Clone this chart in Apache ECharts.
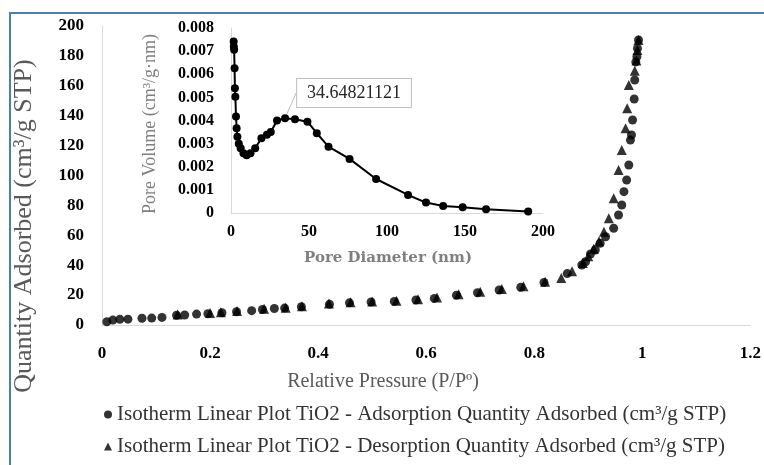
<!DOCTYPE html>
<html>
<head>
<meta charset="utf-8">
<script src="https://cdn.jsdelivr.net/npm/echarts@6/dist/echarts.min.js"></script>
<style>html,body{margin:0;padding:0;background:#fff;}#c{width:764px;height:465px;}</style>
</head>
<body>
<div id="c"></div>
<script>
// Main isotherm: relative pressure (P/P0) vs quantity adsorbed (cm3/g STP)
const adsP = [0.009,0.020,0.033,0.048,0.074,0.092,0.111,0.138,0.153,0.175,0.196,0.222,0.249,0.277,0.297,0.319,0.338,0.369,0.421,0.458,0.498,0.541,0.581,0.615,0.656,0.695,0.735,0.775,0.818,0.861,0.888,0.895,0.904,0.913,0.922,0.932,0.947,0.956,0.962,0.966,0.971,0.975,0.978,0.980,0.982,0.985,0.986,0.988,0.990,0.991,0.993];
const adsQ = [2.2,3.3,3.8,3.9,4.5,4.6,5.1,6.5,6.7,7.3,7.5,8.2,8.9,9.6,10.4,11.0,11.3,12.2,13.9,14.8,15.4,15.8,16.7,17.8,19.9,21.6,23.4,25.2,28.5,34.4,40.1,42.3,47.5,50.2,54.6,59,64.7,73.6,80.3,89.2,97,107,123.7,127.1,137.1,151.2,163.9,176,179.5,185,190.6];
const desP = [0.993,0.991,0.989,0.986,0.975,0.972,0.969,0.962,0.956,0.947,0.938,0.929,0.920,0.910,0.900,0.890,0.870,0.850,0.820,0.780,0.740,0.700,0.660,0.620,0.585,0.545,0.500,0.460,0.420,0.370,0.340,0.300,0.250,0.220,0.200,0.140];
const desQ = [190.6,184,177,170,160.5,145,131.6,117,103.7,84.7,71.4,62.4,56,51,46,41.5,36,31.5,29,26,24,22.2,20.5,18.4,17.3,16.3,15.8,15.2,14.3,12.6,11.6,10.8,9.3,8.5,8.0,7.0];
// Inset: pore size distribution
const poreDiameter = [1.7,1.8,2.0,2.3,2.5,2.8,3.2,3.6,4.1,5.0,6.2,8.0,10,12.5,15.5,19.5,23,25.5,29.5,34.64821121,41,49,55,62.5,76,93,113.5,125,136,148.5,163.5,190.5];
const poreVolume = [0.00742,0.0072,0.00706,0.00626,0.0054,0.00503,0.00417,0.00367,0.0033,0.0030,0.0028,0.00258,0.0025,0.00258,0.0028,0.00323,0.00338,0.0035,0.0040,0.0041,0.00405,0.00395,0.00345,0.00287,0.00234,0.00147,0.00078,0.00045,0.0003,0.00025,0.00016,0.00006];
const peakDiameter = 34.64821121;
// Tick labels
const mainXTicks = [0,0.2,0.4,0.6,0.8,1,1.2];
const mainYTicks = [0,20,40,60,80,100,120,140,160,180,200];
const insetXTicks = [0,50,100,150,200];
const insetYTicks = [0,0.001,0.002,0.003,0.004,0.005,0.006,0.007,0.008];

const adsName = 'Isotherm Linear Plot TiO2 - Adsorption Quantity Adsorbed (cm³/g STP)';
const desName = 'Isotherm Linear Plot TiO2 - Desorption Quantity Adsorbed (cm³/g STP)';

const serif = 'Liberation Serif';
const zip = (a,b) => a.map((v,i)=>[v,b[i]]);
const axisLineStyle = {show:true, onZero:false, lineStyle:{color:'#d9d9d9', width:1}};
function tickAxis(ticks, gridIndex, margin, size){
  return {
    type:'value', gridIndex:gridIndex,
    min:ticks[0], max:ticks[ticks.length-1], interval:ticks[1]-ticks[0],
    axisLine:axisLineStyle, axisTick:{show:false}, splitLine:{show:false},
    axisLabel:{fontFamily:serif, fontWeight:'bold', fontSize:size, color:'#000', margin:margin}
  };
}

const chart = echarts.init(document.getElementById('c'), null, {renderer:'canvas'});
const insetData = zip(poreDiameter, poreVolume).map(d => {
  if (d[0] === peakDiameter) {
    return {value:d, label:{show:true}};
  }
  return d;
});

chart.setOption({
  animation:false,
  backgroundColor:'#ffffff',
  grid:[
    {left:102, top:26, width:650, height:299},
    {left:231, top:28, width:312, height:185}
  ],
  xAxis:[ tickAxis(mainXTicks,0,20,17), tickAxis(insetXTicks,1,11,16) ],
  yAxis:[ tickAxis(mainYTicks,0,18,17), tickAxis(insetYTicks,1,17,16) ],
  legend:{
    data:[adsName, desName],
    orient:'vertical', left:104, top:404, padding:0, height:60,
    itemWidth:8, itemHeight:8, itemGap:11,
    textStyle:{fontFamily:serif, fontSize:21, color:'#333333'}
  },
  graphic:[
    {type:'rect', shape:{x:10, y:13, width:800, height:500}, style:{fill:'none', stroke:'#4a7ebb', lineWidth:2}, silent:true},
    {type:'text', x:383, y:382, style:{text:'Relative Pressure (P/Pº)', fontFamily:serif, fontSize:20, fill:'#595959', align:'center', verticalAlign:'middle'}},
    {type:'text', x:24, y:226, rotation:Math.PI/2, style:{text:'Quantity Adsorbed (cm³/g STP)', fontFamily:serif, fontSize:26, fill:'#595959', align:'center', verticalAlign:'middle'}},
    {type:'text', x:150, y:124, rotation:Math.PI/2, style:{text:'Pore Volume (cm³/g·nm)', fontFamily:serif, fontSize:18, fill:'#7f7f7f', align:'center', verticalAlign:'middle'}},
    {type:'text', x:388, y:258, style:{text:'Pore Diameter (nm)', fontFamily:'DejaVu Serif', fontWeight:'bold', fontSize:15, fill:'#7f7f7f', align:'center', verticalAlign:'middle'}}
  ],
  series:[
    {
      name:adsName, type:'scatter', xAxisIndex:0, yAxisIndex:0,
      symbol:'circle', symbolSize:9, itemStyle:{color:'#000'},
      data:zip(adsP, adsQ)
    },
    {
      name:desName, type:'scatter', xAxisIndex:0, yAxisIndex:0,
      symbol:'triangle', symbolSize:10, itemStyle:{color:'#000'},
      data:zip(desP, desQ)
    },
    {
      name:'Pore Volume', type:'line', xAxisIndex:1, yAxisIndex:1,
      symbol:'circle', symbolSize:8, showSymbol:true,
      itemStyle:{color:'#000'}, lineStyle:{color:'#000', width:2},
      label:{show:false, formatter:p => String(p.value[0]), fontFamily:serif, fontSize:18, color:'#262626',
             backgroundColor:'#fff', borderColor:'#bfbfbf', borderWidth:1, padding:[5,10]},
      labelLayout:{x:354, y:93, align:'center', verticalAlign:'middle'},
      labelLine:{show:true, lineStyle:{color:'#bfbfbf', width:1}},
      data:insetData
    }
  ]
});
</script>
</body>
</html>
